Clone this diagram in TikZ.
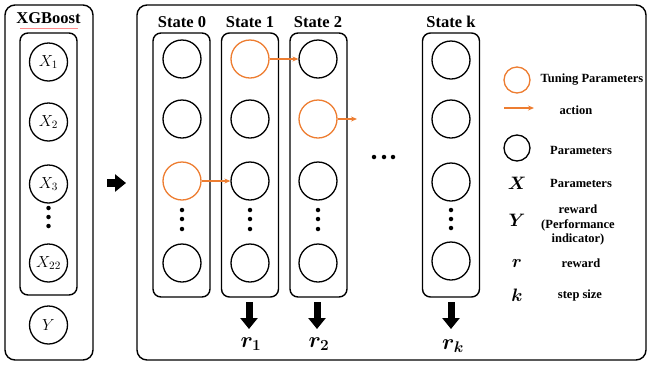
\RequirePackage{fix-cm}
\documentclass[tikz,border=0pt]{standalone}
\usepackage{fontspec}
\setmainfont{Liberation Serif}
\usepackage{bm}
\usetikzlibrary{arrows.meta}
\definecolor{orng}{RGB}{237,125,49}
\begin{document}
\begin{tikzpicture}[x=1pt,y=-1pt,
  outerbox/.style={draw, line width=1.4pt, rounded corners=10pt},
  colbox/.style={draw, line width=1.4pt, rounded corners=8pt, minimum width=57pt, minimum height=264pt, inner sep=0pt},
  parc/.style={circle, draw, line width=1.3pt, minimum size=38pt, inner sep=0pt, font=\fontsize{16}{18}\selectfont},
  tunc/.style={parc, draw=orng},
  act/.style={draw=orng, line width=1.1pt, -{Stealth[length=6pt,width=5pt]}},
  vdot/.style={circle, fill, inner sep=0pt, minimum size=4.5pt},
  ttl/.style={font=\fontsize{16.5}{18}\selectfont\bfseries},
  leg/.style={font=\fontsize{12.5}{15}\selectfont\bfseries, align=center},
  sym/.style={font=\fontsize{18}{20}\selectfont},
  rlab/.style={font=\fontsize{22}{24}\selectfont},
  bigarrow/.style={line width=7pt, -{Triangle[length=11pt,width=17pt]}}
]
\useasboundingbox (0,0) rectangle (649,365);

% ---------- left panel ----------
\draw[outerbox] (5,5) rectangle (93,360);
\node[ttl] (xgb) at (48.5,18) {XGBoost};
\draw[red!45, line width=0.6pt] (20,28) -- (78,28);
\node[colbox, minimum height=262pt] (inbox) at (48.5,164) {};
\node[parc] (x1) at (48.5,62) {$X_1$};
\node[parc] (x2) at (48.5,122) {$X_2$};
\node[parc] (x3) at (48.5,184) {$X_3$};
\node[vdot] (ld1) at (48.5,208) {};
\node[vdot] (ld2) at (48.5,217) {};
\node[vdot] (ld3) at (48.5,226) {};
\node[parc] (x22) at (48.5,263) {$X_{22}$};
\node[parc] (yy) at (48.5,325) {$Y$};

% big arrow between panels
\coordinate (ba1) at (107,183);
\coordinate (ba2) at (126,183);
\draw[bigarrow, line width=8pt] (ba1) -- (ba2);

% ---------- right panel ----------
\draw[outerbox] (137,5) rectangle (646,360);

% State 0
\node[ttl] (t0) at (182,22) {State 0};
\node[colbox] (c0) at (181.5,165) {};
\node[parc] (a1) at (182,59) {};
\node[parc] (a2) at (182,119) {};
\node[tunc] (a3) at (182,181) {};
\node[vdot] (ad1) at (182,210) {};
\node[vdot] (ad2) at (182,219) {};
\node[vdot] (ad3) at (182,229) {};
\node[parc] (a4) at (182,263) {};

% State 1
\node[ttl] (t1) at (250,22) {State 1};
\node[colbox] (c1) at (250,165) {};
\node[tunc] (b1) at (250,59) {};
\node[parc] (b2) at (250,119) {};
\node[parc] (b3) at (250,181) {};
\node[vdot] (bd1) at (250,210) {};
\node[vdot] (bd2) at (250,219) {};
\node[vdot] (bd3) at (250,229) {};
\node[parc] (b4) at (250,263) {};

% State 2
\node[ttl] (t2) at (318,22) {State 2};
\node[colbox] (c2) at (318.5,165) {};
\node[parc] (d1) at (318,59) {};
\node[tunc] (d2) at (318,119) {};
\node[parc] (d3) at (318,181) {};
\node[vdot] (dd1) at (318,210) {};
\node[vdot] (dd2) at (318,219) {};
\node[vdot] (dd3) at (318,229) {};
\node[parc] (d4) at (318,263) {};

% horizontal dots
\node[vdot] (h1) at (374,157) {};
\node[vdot] (h2) at (384,157) {};
\node[vdot] (h3) at (393,157) {};

% State k
\node[ttl] (tk) at (451,22) {State k};
\node[colbox] (ck) at (451,165) {};
\node[parc] (k1) at (451,60) {};
\node[parc] (k2) at (451,119) {};
\node[parc] (k3) at (451,182) {};
\node[vdot] (kd1) at (451,210) {};
\node[vdot] (kd2) at (451,219) {};
\node[vdot] (kd3) at (451,228) {};
\node[parc] (k4) at (451,261) {};

% actions
\draw[act] (a3.east) -- (b3.west);
\draw[act] (b1.east) -- (d1.west);
\coordinate (d2end) at (357,119);
\draw[act] (d2.east) -- (d2end);

% reward arrows
\coordinate (r1s) at (249,302);
\coordinate (r1e) at (249,329);
\draw[bigarrow] (r1s) -- (r1e);
\node[rlab] (r1) at (251,344) {$\bm{r_1}$};
\coordinate (r2s) at (317,302);
\coordinate (r2e) at (317,329);
\draw[bigarrow] (r2s) -- (r2e);
\node[rlab] (r2) at (319,344) {$\bm{r_2}$};
\coordinate (rks) at (451,302);
\coordinate (rke) at (451,329);
\draw[bigarrow] (rks) -- (rke);
\node[rlab] (rk) at (453,346) {$\bm{r_k}$};

% ---------- legend ----------
\node[circle, draw=orng, line width=1.3pt, minimum size=26pt, inner sep=0pt] (lg1) at (517,80) {};
\node[leg] (lt1) at (592,80) {Tuning Parameters};
\coordinate (la1) at (504,108);
\coordinate (la2) at (534,108);
\draw[act] (la1) -- (la2);
\node[leg] (lt2) at (576,110) {action};
\node[circle, draw, line width=1.3pt, minimum size=26pt, inner sep=0pt] (lg3) at (517,148) {};
\node[leg] (lt3) at (581,150) {Parameters};
\node[sym] (sx) at (517,183) {$\bm{X}$};
\node[leg] (lt4) at (581,183) {Parameters};
\node[sym] (sy) at (517,220) {$\bm{Y}$};
\node[leg, font=\fontsize{12.5}{14.5}\selectfont\bfseries] (lt5) at (578,225) {reward\\(Performance\\indicator)};
\node[sym] (sr) at (517,263) {$\bm{r}$};
\node[leg] (lt6) at (581,263) {reward};
\node[sym] (sk) at (517,295) {$\bm{k}$};
\node[leg] (lt7) at (580,295) {step size};
\end{tikzpicture}
\end{document}
